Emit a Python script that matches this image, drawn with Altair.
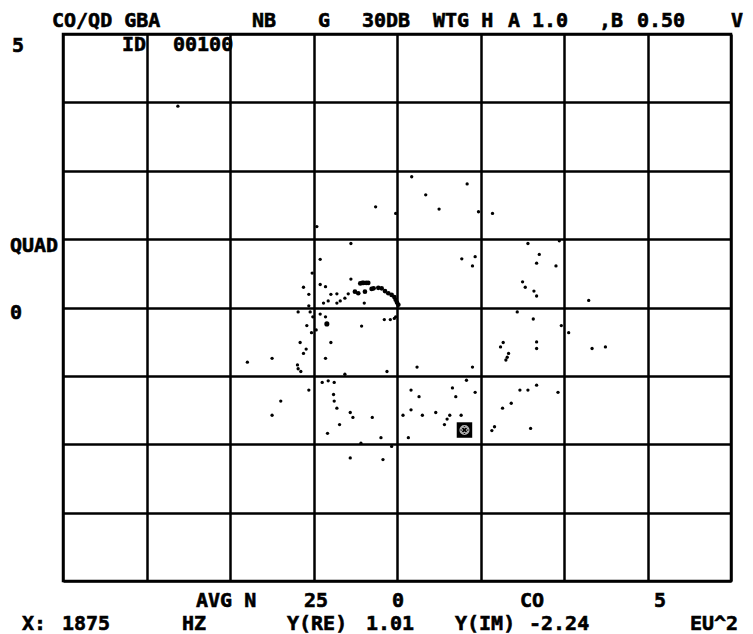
import altair as alt
import pandas as pd

# Scatter samples (real, imaginary)
pts_re = [0.22, 1.05, 0.43, -0.32, 0.63, 1.22, 1.43, -0.02, -1.20, -0.69, -1.15, 0.97, 1.17, 1.13, 1.96,
          -1.27, -0.69, 1.88, 1.92, -1.40, -1.15, -1.07, -1.32, -0.99, -0.90, -0.78, -0.73, -1.03, -1.10,
          -0.90, -0.85, -0.49, -1.32, -1.48, -1.30, -1.26, -1.15, -1.07, -1.35, -1.28, -1.21, -0.53,
          -0.19, -0.10, -0.04, -0.02, 1.80, -1.45, -0.99, -1.36, -1.40, -2.24, -1.87, -1.49, -1.48, -1.44,
          -1.07, -0.78, -0.15, 0.30, 1.13, 1.55, 1.59, 1.67, 1.65, 1.63, -1.32, -1.12, -1.03, -0.94, -1.74,
          -1.87, -0.95, -0.94, -0.90, -0.70, -0.66, -0.37, -0.86, -1.04, -0.24, -0.54, -0.08, -0.70, 0.21,
          0.33, 0.21, 0.09, 0.38, 0.58, 0.79, 0.75, 0.71, 0.96, 0.83, 0.88, 1.04, 1.17, 0.17, 1.58, 1.71,
          1.84, 1.96, 1.46, 1.42, -0.21, 2.43, 2.13, 2.09, 2.38, 2.05, 2.09, 2.87, 2.04, 2.46, 2.57, 2.09,
          2.09, 2.92, 3.12, 2.09, 2.41, 2.00, -3.28]
pts_im = [2.39, 2.26, 2.06, 1.84, 1.80, 1.75, 1.72, 1.72, 1.48, 1.17, 0.88, 0.89, 0.93, 0.76, 1.17,
          0.63, 0.52, 0.47, 0.37, 0.37, 0.42, 0.38, 0.24, 0.24, 0.25, 0.17, 0.25, 0.12, 0.08,
          0.08, 0.12, 0.08, 0.03, -0.08, -0.08, -0.17, -0.12, -0.17, -0.33, -0.46, -0.41, -0.34,
          -0.22, -0.22, -0.20, -0.17, -0.08, -0.64, -0.64, -0.76, -0.84, -1.00, -0.93, -1.05, -1.12, -1.17,
          -0.93, -1.22, -1.17, -1.09, -1.09, -0.72, -0.64, -0.84, -0.91, -0.96, -1.51, -1.37, -1.34, -1.37, -1.71,
          -1.97, -1.59, -1.71, -1.84, -1.92, -2.01, -2.01, -2.14, -2.30, -2.38, -2.48, -2.54, -2.75, -1.51,
          -1.63, -1.87, -1.97, -1.97, -1.92, -1.97, -2.04, -2.14, -1.97, -1.47, -1.63, -1.33, -1.55, -2.38, -1.84, -1.75,
          -1.51, -1.51, -2.18, -2.25, -2.78, 1.22, 0.97, 0.81, 0.76, 0.30, 0.21, 0.13, -0.21, -0.33, -0.46, -0.63,
          -0.75, -0.75, -0.72, -1.42, -1.55, -2.21, 3.68]

# Dense arc near the origin
arc_re = [-0.55, -0.52, -0.50, -0.46, -0.43, -0.63, -0.58, -0.48, -0.38, -0.35, -0.28, -0.23, -0.18,
          -0.13, -0.08, -0.04, -0.02, 0.00, 0.02]
arc_im = [0.44, 0.45, 0.45, 0.45, 0.45, 0.29, 0.26, 0.29, 0.34, 0.35, 0.36, 0.35, 0.30,
          0.26, 0.23, 0.19, 0.14, 0.09, 0.05]
blob_re = [-1.05]
blob_im = [-0.30]

# Cursor marker
cursor_re = [1.01]
cursor_im = [-2.24]

grid_vals = [-5, -3.75, -2.5, -1.25, 0, 1.25, 2.5, 3.75, 5]

FONT = "DejaVu Sans Mono"
FS = 20

pts = pd.DataFrame({"re": pts_re, "im": pts_im})
arc = pd.DataFrame({"re": arc_re, "im": arc_im})
blob = pd.DataFrame({"re": blob_re, "im": blob_im})
cur = pd.DataFrame({"re": cursor_re, "im": cursor_im})

xs = alt.Scale(domain=[-5, 5], nice=False, zero=False)
ys = alt.Scale(domain=[-5, 5], nice=False, zero=False)
xax = alt.Axis(values=grid_vals, grid=True, gridColor="black", gridWidth=2.5, gridOpacity=1,
               labels=False, ticks=False, domain=False, title=None)
yax = alt.Axis(values=grid_vals, grid=True, gridColor="black", gridWidth=2.5, gridOpacity=1,
               labels=False, ticks=False, domain=False, title=None)

base_pts = alt.Chart(pts).mark_circle(color="black", opacity=1, size=11).encode(
    x=alt.X("re:Q", scale=xs, axis=xax),
    y=alt.Y("im:Q", scale=ys, axis=yax),
)
arc_layer = alt.Chart(arc).mark_circle(color="black", opacity=1, size=22).encode(
    x=alt.X("re:Q", scale=xs), y=alt.Y("im:Q", scale=ys))
blob_layer = alt.Chart(blob).mark_circle(color="black", opacity=1, size=26).encode(
    x=alt.X("re:Q", scale=xs), y=alt.Y("im:Q", scale=ys))

cur_bg = alt.Chart(cur).mark_point(shape="square", filled=True, color="black", opacity=1, size=240).encode(
    x=alt.X("re:Q", scale=xs), y=alt.Y("im:Q", scale=ys))
cur_ring = alt.Chart(cur).mark_point(shape="circle", filled=False, color="white", strokeWidth=1.2, size=80).encode(
    x=alt.X("re:Q", scale=xs), y=alt.Y("im:Q", scale=ys))
cur_x = alt.Chart(cur).mark_point(shape="cross", filled=False, color="white", strokeWidth=1, size=45, angle=45).encode(
    x=alt.X("re:Q", scale=xs), y=alt.Y("im:Q", scale=ys))


def label(txt, x, y):
    one = pd.DataFrame({"t": [txt]})
    return alt.Chart(one).mark_text(font=FONT, fontSize=FS, fontWeight="bold", align="left",
                                     baseline="middle", color="black",
                                     stroke="black", strokeWidth=0.6).encode(
        x=alt.value(x), y=alt.value(y), text="t:N")


labels = [
    # header
    ("CO/QD GBA", -11, -13), ("NB", 189, -13), ("G", 255, -13), ("30DB", 299, -13),
    ("WTG H", 370, -13), ("A", 445, -13), ("1.0", 469, -13), (",B", 536, -13),
    ("0.50", 574, -13), ("V", 668, -13),
    # left side
    ("5", -51, 12), ("ID", 59, 11), ("00100", 110, 11),
    ("QUAD", -53, 212), ("0", -53, 279),
    # bottom row 1
    ("AVG N", 133, 567), ("25", 241, 567), ("0", 329, 567), ("CO", 457, 567), ("5", 591, 567),
    # bottom row 2
    ("X:", -41, 590), ("1875", -1, 590), ("HZ", 119, 590), ("Y(RE)", 224, 590), ("1.01", 303, 590),
    ("Y(IM)", 392, 590), ("-2.24", 466, 590), ("EU^2", 627, 590),
]

layers = [base_pts, arc_layer, blob_layer, cur_bg, cur_ring, cur_x] + [label(t, x, y) for t, x, y in labels]

chart = alt.layer(*layers).properties(
    width=668, height=547,
    autosize=alt.AutoSizeParams(type="none"),
    padding={"left": 55, "top": 26, "right": 14, "bottom": 53},
    background="white",
).configure_view(stroke="black", strokeWidth=2.5)

chart.save("out.html", embed_options={"renderer": "svg", "actions": False})
